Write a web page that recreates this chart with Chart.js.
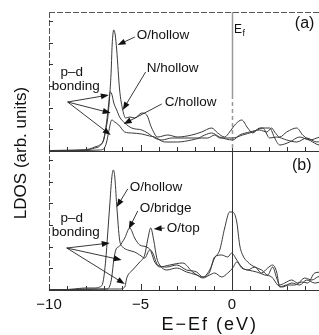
<!DOCTYPE html>
<html>
<head>
<meta charset="utf-8">
<script src="https://cdn.jsdelivr.net/npm/chart.js@4.4.1/dist/chart.umd.min.js"></script>
<style>
  html, body { margin: 0; padding: 0; background: #fff; overflow: hidden; }
</style>
</head>
<body>
<canvas id="ldos" width="325" height="335"></canvas>
<script>
// ---- panel (a): O, N, C at hollow sites ----
const aOholE = [-10, -9.14, -8.32, -7.78, -7.5, -7.23, -7.01, -6.9, -6.79, -6.68, -6.6, -6.55, -6.46, -6.38, -6.3, -6.14, -5.97, -5.81, -5.59, -5.32, -4.93, -4.66, -4.39, -4.06, -3.51, -2.97, -2.2, -1.66, -1.11, -0.78, -0.4, -0.13, 0.2, 0.53, 0.86, 1.13, 1.51, 2.06, 2.33, 2.61, 3.15, 3.7, 4.24, 4.79, 5];
const aOholD = [0.05, 0.05, 0.1, 0.2, 0.4, 0.6, 1.1, 2.1, 3.3, 5.6, 8.1, 10.6, 12.1, 11.6, 10.1, 6.1, 4.1, 3.3, 3.4, 3.3, 3.8, 3.6, 2.3, 1.4, 1.6, 1.4, 1.6, 1.9, 2.3, 1.8, 1.4, 1.9, 2.7, 3.1, 2.3, 1.8, 2.3, 2.3, 1.3, 0.6, 0.9, 1.4, 1.1, 1.4, 1.5];

const aNholE = [-10, -9, -8, -7.5, -7.23, -7.01, -6.85, -6.74, -6.66, -6.57, -6.46, -6.3, -6.14, -5.86, -5.48, -4.93, -4.61, -4.22, -3.84, -3.29, -2.58, -1.87, -1.49, -1.11, -0.67, 0.04, 0.42, 0.97, 1.51, 1.9, 2.17, 2.33, 2.61, 2.99, 3.54, 3.86, 4.41, 4.79, 5];
const aNholD = [0.05, 0.08, 0.1, 0.3, 0.5, 1.2, 2.9, 4.7, 5.9, 5.7, 4.8, 4.1, 3.4, 2.8, 2.3, 2.1, 1.8, 1.3, 1.1, 1.3, 1.3, 1.3, 1.6, 1.8, 1.4, 1.1, 1.6, 1.9, 2.1, 1.9, 2.3, 1.9, 1.4, 1.9, 2.3, 1.6, 0.9, 0.6, 0.7];

const aCholE = [-10, -8, -7.23, -7.01, -6.85, -6.74, -6.57, -6.41, -6.19, -5.86, -5.48, -4.93, -4.5, -4.22, -3.68, -2.97, -2.2, -1.66, -1.33, -0.95, -0.67, 0.04, 0.58, 1.13, 1.68, 2.06, 2.44, 2.99, 3.54, 4.08, 4.63, 5];
const aCholD = [0.02, 0.05, 0.1, 0.2, 0.9, 1.9, 3.1, 2.9, 2.6, 1.9, 1.8, 1.7, 1.5, 1.4, 0.9, 0.9, 1.1, 1.3, 1.3, 1.6, 1.3, 1.3, 1.6, 1.9, 2.3, 1.3, 1.4, 1.1, 0.9, 1.3, 0.9, 1.1];

// ---- panel (b): O at hollow, bridge and top sites ----
const bOholE = [-10, -9, -8.6, -8.05, -7.5, -7.23, -7.06, -6.9, -6.79, -6.68, -6.57, -6.49, -6.41, -6.3, -6.14, -5.97, -5.7, -5.32, -5.04, -4.77, -4.5, -4.22, -3.95, -3.4, -2.69, -2.15, -1.6, -1.22, -0.95, -0.67, -0.4, -0.13, 0.04, 0.26, 0.42, 0.58, 0.86, 1.24, 1.62, 1.95, 2.22, 2.44, 2.61, 2.88, 3.26, 3.59, 3.97, 4.36, 4.68, 5];
const bOholD = [0.05, 0.05, 0.1, 0.2, 0.2, 0.3, 0.7, 3.0, 5.7, 8.5, 11.2, 12.0, 11.4, 8.5, 5.0, 4.3, 4.0, 3.8, 3.5, 3.2, 4.0, 2.8, 2.3, 2.5, 2.7, 1.8, 1.3, 2.0, 3.2, 4.0, 6.2, 7.8, 7.8, 6.8, 4.5, 3.5, 2.8, 2.3, 2.0, 1.5, 2.3, 1.2, 0.5, 0.7, 1.0, 0.7, 1.2, 1.0, 1.3, 1.5];

const bObriE = [-10, -9, -8, -7.23, -6.85, -6.68, -6.57, -6.46, -6.35, -6.14, -5.86, -5.59, -5.32, -5.04, -4.66, -4.33, -4.06, -3.57, -3.02, -2.48, -1.93, -1.6, -1.22, -0.95, -0.56, -0.23, -0.02, 0.26, 0.53, 0.86, 1.24, 1.62, 1.95, 2.22, 2.44, 2.61, 2.99, 3.43, 3.81, 4.14, 4.52, 5];
const bObriD = [0.03, 0.05, 0.1, 0.1, 0.1, 0.4, 1.3, 3.0, 4.0, 4.4, 5.2, 6.2, 5.2, 4.5, 4.3, 3.7, 2.5, 2.3, 2.5, 2.0, 1.8, 1.3, 1.8, 3.3, 3.5, 3.3, 3.7, 3.0, 2.3, 2.0, 2.3, 1.7, 2.2, 2.5, 1.8, 0.3, 0.5, 0.5, 0.8, 0.7, 1.7, 1.8];

const bOtopE = [-10, -8, -6.68, -6.14, -5.86, -5.75, -5.43, -5.04, -4.77, -4.61, -4.44, -4.28, -4.11, -3.95, -3.57, -3.02, -2.48, -1.93, -1.6, -1.22, -0.95, -0.56, -0.23, 0.04, 0.26, 0.53, 0.86, 1.35, 1.79, 2.17, 2.5, 2.77, 3.26, 3.7, 4.08, 4.52, 5];
const bOtopD = [0.02, 0.05, 0.1, 0.1, 0.3, 1.2, 2.0, 2.8, 3.5, 5.0, 6.2, 5.0, 3.2, 2.5, 2.0, 2.2, 1.8, 1.5, 1.2, 1.5, 1.7, 1.3, 1.7, 2.2, 2.8, 2.2, 2.0, 1.8, 1.5, 1.3, 0.5, 0.3, 0.7, 0.5, 1.0, 0.7, 0.9];

const xTickLabels = [-10, -5, 0];

// text labels and arrows, placed in data units of each panel
const notes = [
  { ax: 'ya', t: 'O/hollow', x: -5.21, y: 11.6 },
  { ax: 'ya', t: 'N/hollow', x: -4.66, y: 8.3 },
  { ax: 'ya', t: 'C/hollow', x: -3.68, y: 4.9 },
  { ax: 'ya', t: 'p\u2013d', x: -8.76, y: 7.9, c: true },
  { ax: 'ya', t: 'bonding', x: -8.54, y: 6.5, c: true },
  { ax: 'yb', t: 'O/hollow', x: -5.59, y: 10.3 },
  { ax: 'yb', t: 'O/bridge', x: -5.04, y: 8.2 },
  { ax: 'yb', t: 'O/top', x: -3.57, y: 6.2 },
  { ax: 'yb', t: 'p\u2013d', x: -8.76, y: 7.2, c: true },
  { ax: 'yb', t: 'bonding', x: -8.54, y: 5.8, c: true }
];
const arrows = [
  { ax: 'ya', x1: -5.31, y1: 11.4, x2: -6.25, y2: 10.6 },
  { ax: 'ya', x1: -4.72, y1: 7.9, x2: -5.97, y2: 4.1 },
  { ax: 'ya', x1: -3.84, y1: 4.7, x2: -5.92, y2: 2.7 },
  { ax: 'ya', x1: -8.98, y1: 4.9, x2: -6.73, y2: 5.6 },
  { ax: 'ya', x1: -8.98, y1: 4.9, x2: -6.63, y2: 3.8 },
  { ax: 'ya', x1: -8.98, y1: 4.9, x2: -6.63, y2: 1.6 },
  { ax: 'yb', x1: -5.70, y1: 10.1, x2: -6.30, y2: 8.3 },
  { ax: 'yb', x1: -5.15, y1: 7.9, x2: -5.64, y2: 6.1 },
  { ax: 'yb', x1: -3.68, y1: 6.2, x2: -4.28, y2: 6.1 },
  { ax: 'yb', x1: -9.03, y1: 4.2, x2: -6.68, y2: 4.7 },
  { ax: 'yb', x1: -9.03, y1: 4.2, x2: -6.03, y2: 3.0 },
  { ax: 'yb', x1: -9.03, y1: 4.2, x2: -5.86, y2: 0.6 }
];

const FONT = '"Liberation Sans", Arial, sans-serif';
const pts = (xs, ys) => xs.map((x, i) => ({ x: x, y: ys[i] }));
const curve = (xs, ys, axis) => ({
  data: pts(xs, ys),
  yAxisID: axis,
  borderColor: '#3a3a3a',
  borderWidth: 1,
  pointRadius: 0,
  fill: false,
  cubicInterpolationMode: 'monotone'
});

function arrow(ctx, x1, y1, x2, y2) {
  const a = Math.atan2(y2 - y1, x2 - x1);
  ctx.beginPath();
  ctx.moveTo(x1, y1);
  ctx.lineTo(x2 - 5 * Math.cos(a), y2 - 5 * Math.sin(a));
  ctx.stroke();
  ctx.beginPath();
  ctx.moveTo(x2, y2);
  ctx.lineTo(x2 - 8 * Math.cos(a) + 3 * Math.sin(a), y2 - 8 * Math.sin(a) - 3 * Math.cos(a));
  ctx.lineTo(x2 - 8 * Math.cos(a) - 3 * Math.sin(a), y2 - 8 * Math.sin(a) + 3 * Math.cos(a));
  ctx.closePath();
  ctx.fill();
}

const frame = {
  id: 'frame',
  beforeDatasetsDraw(chart) {
    const { ctx, chartArea: ca, scales } = chart;
    const x = scales.x, ya = scales.ya, yb = scales.yb;
    ctx.save();
    ctx.lineWidth = 1;
    ctx.strokeStyle = '#555';
    // dashed-looking left and top frame
    ctx.setLineDash([6, 2]);
    ctx.beginPath();
    ctx.moveTo(ca.left + 0.5, ca.top);
    ctx.lineTo(ca.left + 0.5, ca.bottom);
    ctx.moveTo(ca.left, ca.top + 0.5);
    ctx.lineTo(ca.right, ca.top + 0.5);
    ctx.stroke();
    ctx.setLineDash([]);
    ctx.strokeStyle = '#333';
    ctx.beginPath();
    [ya, yb].forEach(s => {
      ctx.moveTo(ca.left, Math.round(s.bottom) + 0.5);
      ctx.lineTo(ca.right, Math.round(s.bottom) + 0.5);
      for (let v = -10; v <= 5; v++) {
        const px = Math.round(x.getPixelForValue(v)) + 0.5;
        ctx.moveTo(px, s.bottom);
        ctx.lineTo(px, s.bottom - (v % 5 === 0 ? 6 : 4));
      }
      for (let k = 1; k * 2.17 < s.max; k++) {
        const py = Math.round(s.getPixelForValue(k * 2.17)) + 0.5;
        ctx.moveTo(ca.left, py);
        ctx.lineTo(ca.left + 4, py);
      }
    });
    ctx.stroke();
    // Fermi level
    const x0 = Math.round(x.getPixelForValue(0)) + 0.5;
    ctx.strokeStyle = '#999';
    ctx.lineWidth = 1.5;
    ctx.beginPath();
    ctx.moveTo(x0, ya.top);
    ctx.lineTo(x0, ya.getPixelForValue(5.6));
    ctx.stroke();
    ctx.setLineDash([4, 3]);
    ctx.beginPath();
    ctx.moveTo(x0, ya.getPixelForValue(5.6));
    ctx.lineTo(x0, ya.bottom);
    ctx.stroke();
    ctx.setLineDash([]);
    ctx.strokeStyle = '#333';
    ctx.lineWidth = 1;
    ctx.beginPath();
    ctx.moveTo(x0, yb.top);
    ctx.lineTo(x0, yb.bottom);
    ctx.stroke();
    ctx.restore();
  },
  afterDatasetsDraw(chart) {
    const { ctx, chartArea: ca, scales } = chart;
    const x = scales.x;
    ctx.save();
    ctx.fillStyle = '#111';
    ctx.strokeStyle = '#222';
    ctx.lineWidth = 0.9;
    ctx.textBaseline = 'middle';
    ctx.font = '13.5px ' + FONT;
    notes.forEach(n => {
      ctx.textAlign = n.c ? 'center' : 'left';
      ctx.fillText(n.t, x.getPixelForValue(n.x), scales[n.ax].getPixelForValue(n.y));
    });
    arrows.forEach(a => {
      const s = scales[a.ax];
      arrow(ctx, x.getPixelForValue(a.x1), s.getPixelForValue(a.y1),
        x.getPixelForValue(a.x2), s.getPixelForValue(a.y2));
    });
    // E_f label
    const ex = x.getPixelForValue(0) + 2;
    const ey = scales.ya.getPixelForValue(12.1);
    ctx.textAlign = 'left';
    ctx.font = '12px ' + FONT;
    ctx.fillText('E', ex, ey);
    ctx.font = '9px ' + FONT;
    ctx.fillText('f', ex + 8.5, ey + 4);
    // panel tags
    ctx.font = '16px ' + FONT;
    ctx.textAlign = 'center';
    ctx.fillText('(a)', x.getPixelForValue(3.97), scales.ya.getPixelForValue(12.7));
    ctx.fillText('(b)', x.getPixelForValue(3.81), scales.yb.getPixelForValue(12.4));
    // x tick labels
    ctx.font = '15px ' + FONT;
    xTickLabels.forEach(v => {
      const s = v < 0 ? '\u2212' + Math.abs(v) : String(v);
      ctx.fillText(s, x.getPixelForValue(v), ca.bottom + 15);
    });
    // axis titles
    ctx.font = '18px ' + FONT;
    ctx.letterSpacing = '2px';
    ctx.fillText('E\u2212Ef (eV)', x.getPixelForValue(-1.27) + 1, ca.bottom + 35);
    ctx.letterSpacing = '0px';
    ctx.font = '17px ' + FONT;
    ctx.translate(21, (ca.top + ca.bottom) / 2 + 2);
    ctx.rotate(-Math.PI / 2);
    ctx.fillText('LDOS (arb. units)', 0, 0);
    ctx.restore();
  }
};

new Chart(document.getElementById('ldos'), {
  type: 'line',
  data: {
    datasets: [
      curve(aOholE, aOholD, 'ya'),
      curve(aNholE, aNholD, 'ya'),
      curve(aCholE, aCholD, 'ya'),
      curve(bOholE, bOholD, 'yb'),
      curve(bObriE, bObriD, 'yb'),
      curve(bOtopE, bOtopD, 'yb')
    ]
  },
  options: {
    responsive: false,
    animation: false,
    events: [],
    layout: { padding: { left: 49, right: 1.5, top: 12, bottom: 45 } },
    plugins: { legend: { display: false }, tooltip: { enabled: false } },
    scales: {
      x: { type: 'linear', min: -10, max: 5, display: false },
      yb: { type: 'linear', min: 0, max: 13.9, display: false, position: 'left', stack: 'panels', stackWeight: 1 },
      ya: { type: 'linear', min: 0, max: 13.9, display: false, position: 'left', stack: 'panels', stackWeight: 1 }
    }
  },
  plugins: [frame]
});
</script>
</body>
</html>
